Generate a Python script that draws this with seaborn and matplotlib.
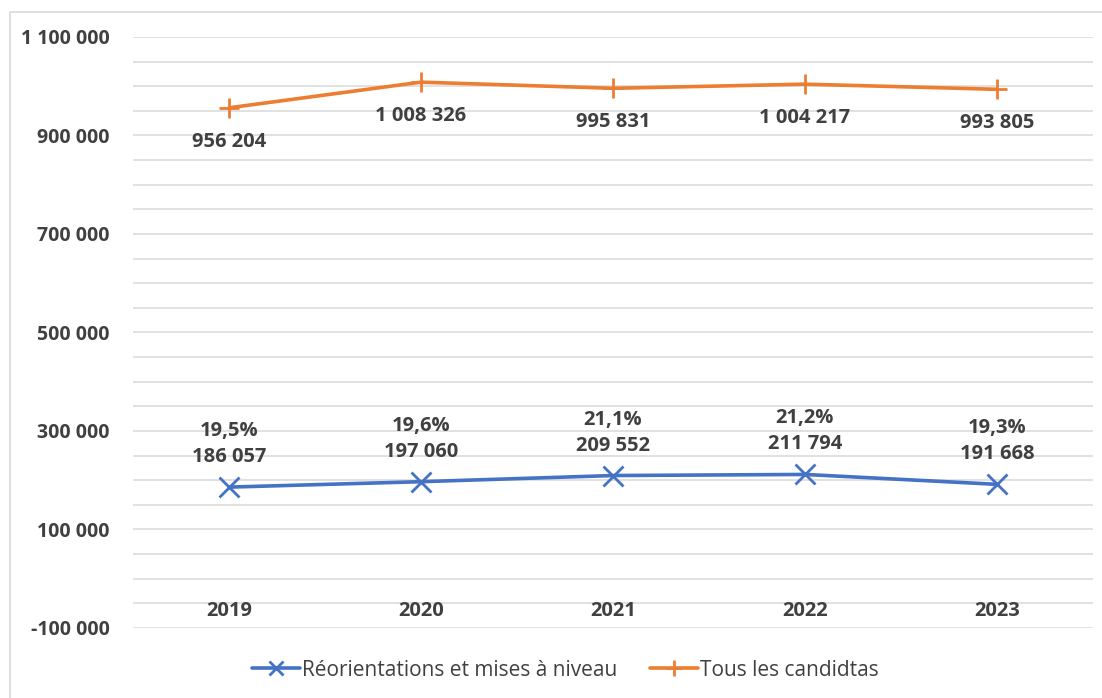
import matplotlib
matplotlib.use("Agg")
import matplotlib.pyplot as plt
from matplotlib.ticker import MultipleLocator, FuncFormatter
from matplotlib.patches import Rectangle
import seaborn as sns
import pandas as pd

years = ["2019", "2020", "2021", "2022", "2023"]
reorientations = [186057, 197060, 209552, 211794, 191668]
reorientation_share = ["19,5%", "19,6%", "21,1%", "21,2%", "19,3%"]
all_candidates = [956204, 1008326, 995831, 1004217, 993805]
series_names = ["Réorientations et mises à niveau", "Tous les candidtas"]

BLUE = "#4472C4"
ORANGE = "#ED7D31"
TEXT = "#404040"
GRID = "#D9D9D9"

sns.set_theme(style="white")
plt.rcParams["font.family"] = ["Open Sans", "DejaVu Sans"]

df = pd.DataFrame({
    "pos": list(range(len(years))) * 2,
    "value": reorientations + all_candidates,
    "serie": [series_names[0]] * len(years) + [series_names[1]] * len(years),
})

fig = plt.figure(figsize=(11.02, 6.98), dpi=100)
ax = fig.add_axes([0.1207, 0.1003, 0.8711, 0.8467])

sns.lineplot(
    data=df, x="pos", y="value", hue="serie", style="serie",
    palette=[BLUE, ORANGE], markers=["x", "+"], dashes=False,
    linewidth=2.6, markersize=15, markeredgewidth=2.0,
    ax=ax, legend=False,
)
for ln in ax.lines:
    ln.set_markeredgecolor(ln.get_color())
    ln.set_markerfacecolor(ln.get_color())

ax.set_xlim(-0.5, len(years) - 0.5)
ax.set_ylim(-100000, 1100000)
ax.yaxis.set_minor_locator(MultipleLocator(50000))
ax.set_yticks(range(-100000, 1100001, 200000))
ax.yaxis.set_major_formatter(FuncFormatter(lambda v, _: f"{int(v):,}".replace(",", " ")))
ax.grid(True, which="both", axis="y", color=GRID, linewidth=1.1)
ax.set_axisbelow(True)
ax.set_xticks([])
ax.set_xlabel("")
ax.set_ylabel("")
for s in ax.spines.values():
    s.set_visible(False)
ax.tick_params(axis="y", which="both", length=0, pad=17,
               labelsize=14, labelcolor=TEXT)
for lab in ax.get_yticklabels():
    lab.set_fontweight("bold")

label_kw = dict(textcoords="offset pixels", ha="center", va="center",
                fontsize=14.5, fontweight="bold", color=TEXT)

# category labels sit just below the zero line
for i, yr in enumerate(years):
    ax.annotate(yr, xy=(i, 0), xytext=(0, -32), **label_kw)

# value labels
for i, v in enumerate(all_candidates):
    ax.annotate(f"{v:,}".replace(",", " "), xy=(i, v), xytext=(0, -34), **label_kw)
for i, (v, pct) in enumerate(zip(reorientations, reorientation_share)):
    ax.annotate(f"{v:,}".replace(",", " "), xy=(i, v), xytext=(0, 30), **label_kw)
    ax.annotate(pct, xy=(i, v), xytext=(0, 56), **label_kw)

# legend
handles = [
    plt.Line2D([], [], color=BLUE, marker="x", lw=2.6, ms=10, mew=2),
    plt.Line2D([], [], color=ORANGE, marker="+", lw=2.6, ms=12, mew=2),
]
leg = fig.legend(handles, series_names, loc="center", bbox_to_anchor=(0.513, 0.04),
                 ncol=2, frameon=False, handlelength=2.3, handletextpad=0.1,
                 columnspacing=1.6,
                 prop={"family": ["Open Sans", "DejaVu Sans"], "size": 15})
for t in leg.get_texts():
    t.set_color(TEXT)

# chart frame
fig.patches.append(Rectangle((10 / 1102, -0.01), 1.2, 1 - 12 / 698 + 0.01,
                             transform=fig.transFigure, fill=False,
                             edgecolor="#D9D9D9", linewidth=1.2))

fig.savefig("out.png", dpi=100, facecolor="white")
